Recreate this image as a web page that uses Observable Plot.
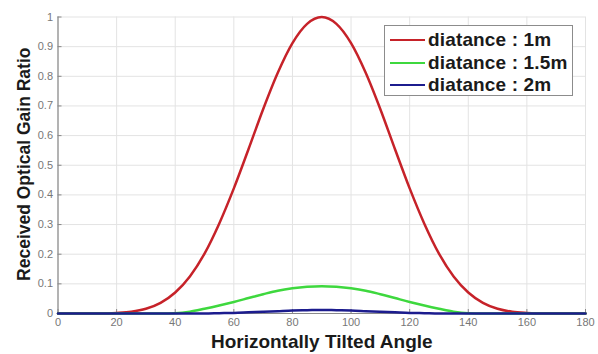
<!DOCTYPE html>
<html>
<head>
<meta charset="utf-8">
<script src="https://cdn.jsdelivr.net/npm/d3@7"></script>
<script src="https://cdn.jsdelivr.net/npm/@observablehq/plot@0.6"></script>
<style>
  html, body { margin: 0; padding: 0; background: #fff; }
  body { font-family: "Liberation Sans", Arial, sans-serif; }
  #wrap { position: relative; width: 598px; height: 354px; }
  #legend {
    position: absolute; left: 384px; top: 25px; width: 187px; height: 69px;
    border: 1.5px solid #8c8c8c; background: #fff; box-sizing: content-box;
  }
  .row { position: absolute; left: 5px; height: 22px; display: flex; align-items: center;
    font-weight: bold; font-size: 19px; letter-spacing: 0.15px; color: #1a1a1a; white-space: nowrap; }
  .sw { width: 35px; height: 0; border-top: 2.5px solid; margin-right: 3px; }
</style>
</head>
<body>
<div id="wrap"><div id="legend"></div></div>
<script>
const angles = [0,5,10,15,20,25,30,35,40,45,50,55,60,65,70,75,80,85,90,95,100,105,110,115,120,125,130,135,140,145,150,155,160,165,170,175,180];
const gain1m  = [0,0,0,0,0.002,0.006,0.016,0.036,0.071,0.125,0.202,0.303,0.422,0.554,0.689,0.812,0.912,0.977,1.0,0.977,0.912,0.812,0.689,0.554,0.422,0.303,0.202,0.125,0.071,0.036,0.016,0.006,0.002,0,0,0,0];
const gain15m = [0,0,0,0,0,0,0,0,0.001,0.006,0.016,0.027,0.039,0.052,0.065,0.077,0.085,0.090,0.092,0.090,0.085,0.077,0.065,0.052,0.039,0.027,0.016,0.006,0.001,0,0,0,0,0,0,0,0];
const gain2m  = [0,0,0,0,0,0,0,0,0,0,0,0.001,0.002,0.004,0.006,0.008,0.010,0.011,0.012,0.011,0.010,0.008,0.006,0.004,0.002,0.001,0,0,0,0,0,0,0,0,0,0,0];
const seriesNames = ["diatance : 1m", "diatance : 1.5m", "diatance : 2m"];
const seriesColors = ["#c62229", "#3ed83e", "#1c1c8e"];
const xTicks = [0,20,40,60,80,100,120,140,160,180];
const yTicks = [0,0.1,0.2,0.3,0.4,0.5,0.6,0.7,0.8,0.9,1];
const yTickLabels = ["0","0.1","0.2","0.3","0.4","0.5","0.6","0.7","0.8","0.9","1"];

const allSeries = [gain1m, gain15m, gain2m];
const rows = [];
allSeries.forEach((vals, s) => angles.forEach((a, i) => rows.push({angle: a, gain: vals[i], series: seriesNames[s]})));

const chart = Plot.plot({
  width: 598, height: 354,
  marginLeft: 57.5, marginRight: 13, marginTop: 16.5, marginBottom: 41,
  style: {fontFamily: "Liberation Sans, Arial, sans-serif", background: "#fff"},
  x: {domain: [0, 180], ticks: xTicks},
  y: {domain: [0, 1], ticks: yTicks},
  color: {domain: seriesNames, range: seriesColors},
  marks: [
    Plot.gridX(xTicks, {stroke: "#e3e3e3", strokeOpacity: 1}),
    Plot.gridY(yTicks, {stroke: "#e3e3e3", strokeOpacity: 1}),
    Plot.axisX({ticks: xTicks, tickSize: -4, tickPadding: 9, fontSize: 11, fill: "#777", stroke: "#888", label: null}),
    Plot.axisY({ticks: yTicks, tickFormat: (d, i) => yTickLabels[i], tickSize: -4, tickPadding: 9, fontSize: 11, fill: "#777", stroke: "#888", label: null}),
    Plot.ruleX([0], {stroke: "#8a8a8a", strokeWidth: 1.2}),
    Plot.ruleY([0], {stroke: "#8a8a8a", strokeWidth: 1.2}),
    Plot.line(rows, {x: "angle", y: "gain", z: "series", stroke: "series", strokeWidth: 2.5, curve: "monotone-x"}),
    Plot.text(["Horizontally Tilted Angle"], {frameAnchor: "bottom", lineAnchor: "middle", textAnchor: "middle", dy: 28, fontSize: 19, fontWeight: "bold", fill: "#1a1a1a"}),
    Plot.text(["Received Optical Gain Ratio"], {frameAnchor: "left", textAnchor: "middle", lineAnchor: "middle", dx: -33.5, dy: -1, rotate: -90, fontSize: 17.5, fontWeight: "bold", fill: "#1a1a1a"})
  ]
});
const wrap = document.getElementById("wrap");
wrap.insertBefore(chart, wrap.firstChild);

const legend = document.getElementById("legend");
seriesNames.forEach((name, i) => {
  const r = document.createElement("div");
  r.className = "row";
  r.style.top = (3 + i * 22.6) + "px";
  const sw = document.createElement("span");
  sw.className = "sw";
  sw.style.borderTopColor = seriesColors[i];
  r.appendChild(sw);
  r.appendChild(document.createTextNode(name));
  legend.appendChild(r);
});
</script>
</body>
</html>
